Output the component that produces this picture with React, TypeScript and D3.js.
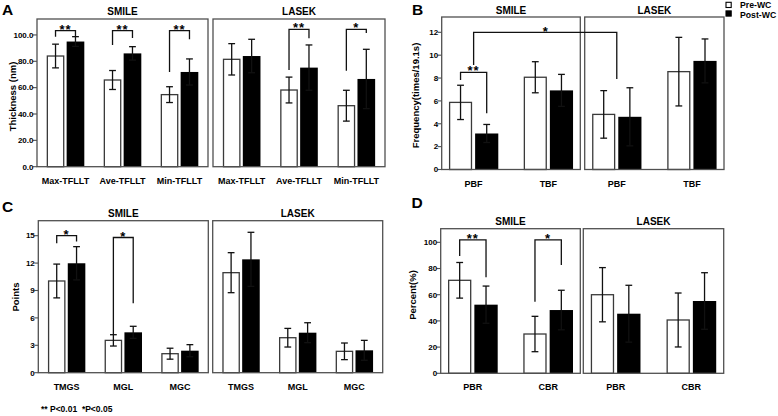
import React from 'react';
import * as d3 from 'd3';

// ---------- data ----------
const seriesLabels = ['Pre-WC', 'Post-WC'];
const groupLabels = ['SMILE', 'LASEK'];

// Panel A: tear film lipid layer thickness (nm)
const catsA = ['Max-TFLLT', 'Ave-TFLLT', 'Min-TFLLT'];
const smilePreA = [84.0, 65.8, 54.7];
const smilePreErrA = [9.0, 7.2, 6.0];
const smilePostA = [95.0, 86.0, 71.9];
const smilePostErrA = [3.7, 5.1, 9.9];
const lasekPreA = [81.5, 58.2, 46.3];
const lasekPreErrA = [11.9, 9.8, 11.7];
const lasekPostA = [84.0, 75.2, 66.6];
const lasekPostErrA = [12.7, 17.2, 22.5];
const ticksA = [0, 20, 40, 60, 80, 100];

// Panel B: blink frequency
const catsB = ['PBF', 'TBF'];
const smilePreB = [5.87, 8.07];
const smilePreErrB = [1.5, 1.36];
const smilePostB = [3.15, 6.92];
const smilePostErrB = [0.79, 1.4];
const lasekPreB = [4.82, 8.56];
const lasekPreErrB = [2.08, 3.0];
const lasekPostB = [4.61, 9.5];
const lasekPostErrB = [2.54, 1.92];
const ticksB = [0, 2, 4, 6, 8, 10, 12];

// Panel C: meibography points
const catsC = ['TMGS', 'MGL', 'MGC'];
const smilePreC = [10.04, 3.54, 2.08];
const smilePreErrC = [1.85, 0.62, 0.6];
const smilePostC = [11.98, 4.42, 2.41];
const smilePostErrC = [1.82, 0.66, 0.66];
const lasekPreC = [10.95, 3.83, 2.34];
const lasekPreErrC = [2.19, 1.02, 0.91];
const lasekPostC = [12.41, 4.38, 2.45];
const lasekPostErrC = [2.96, 1.09, 1.09];
const ticksC = [0, 3, 6, 9, 12, 15];

// Panel D: blink ratio percent
const catsD = ['PBR', 'CBR'];
const smilePreD = [71.0, 30.0];
const smilePreErrD = [13.6, 13.5];
const smilePostD = [52.4, 48.3];
const smilePostErrD = [14.2, 15.1];
const lasekPreD = [60.0, 40.7];
const lasekPreErrD = [20.7, 20.6];
const lasekPostD = [45.5, 55.2];
const lasekPostErrD = [21.7, 21.6];
const ticksD = [0, 20, 40, 60, 80, 100];

// significance brackets (values in data units)
const sigA = [
  { group: 0, cat: 0, top: 103.3, left: 98.7, right: 99.2, label: '**' },
  { group: 0, cat: 1, top: 103.3, left: 92.4, right: 97.7, label: '**' },
  { group: 0, cat: 2, top: 103.3, left: 71.9, right: 96.7, label: '**' },
  { group: 1, cat: 1, top: 104.3, left: 73.4, right: 97.5, label: '**' },
  { group: 1, cat: 2, top: 104.3, left: 72.9, right: 101.5, label: '*' },
];
const sigB = [{ group: 0, cat: 0, top: 8.5, left: 7.83, right: 4.92, label: '**' }];
const spanB = [{ fromGroup: 0, toGroup: 1, cat: 0, top: 12.0, left: 9.14, right: 7.92, label: '*' }];
const sigC = [
  { group: 0, cat: 0, top: 15.0, left: 14.17, right: 14.35, label: '*' },
  { group: 0, cat: 1, top: 14.8, left: 4.13, right: 7.6, label: '*' },
];
const sigD = [
  { group: 0, cat: 0, top: 101.8, left: 89.5, right: 73.3, label: '**' },
  { group: 0, cat: 1, top: 101.8, left: 54.7, right: 82.7, label: '*' },
];

const footnote = '** P<0.01  *P<0.05';

// ---------- layout ----------
const FONT = "'Liberation Sans', Arial, Helvetica, sans-serif";
const BOX = '#505050';

type Sig = { group: number; cat: number; top: number; left: number; right: number; label: string };
type Span = { fromGroup: number; toGroup: number; cat: number; top: number; left: number; right: number; label: string };

type PanelCfg = {
  letter: string; letterX: number; letterY: number;
  cats: string[];
  pre: number[][]; preErr: number[][]; post: number[][]; postErr: number[][];
  ticks: number[]; fmt: (v: number) => string;
  yMax: number; yBottom: number; yTop: number;
  boxes: { x0: number; x1: number }[];
  pad: number;
  yTitle: string; yTitleX: number; yTitleY: number;
  titleY: number; catY: number;
  sig: Sig[]; spans: Span[];
};

const panels: PanelCfg[] = [
  {
    letter: 'A', letterX: 2, letterY: 15,
    cats: catsA,
    pre: [smilePreA, lasekPreA], preErr: [smilePreErrA, lasekPreErrA],
    post: [smilePostA, lasekPostA], postErr: [smilePostErrA, lasekPostErrA],
    ticks: ticksA, fmt: d3.format('.1f'),
    yMax: 112.1, yBottom: 166.7, yTop: 19,
    boxes: [{ x0: 37, x1: 208 }, { x0: 213, x1: 385 }],
    pad: 0.5,
    yTitle: 'Thickness (nm)', yTitleX: 12.5, yTitleY: 96.5,
    titleY: 15, catY: 183.5,
    sig: sigA, spans: [],
  },
  {
    letter: 'B', letterX: 412, letterY: 15,
    cats: catsB,
    pre: [smilePreB, lasekPreB], preErr: [smilePreErrB, lasekPreErrB],
    post: [smilePostB, lasekPostB], postErr: [smilePostErrB, lasekPostErrB],
    ticks: ticksB, fmt: d3.format('d'),
    yMax: 13.34, yBottom: 169.5, yTop: 17,
    boxes: [{ x0: 441.7, x1: 580.3 }, { x0: 584.7, x1: 724 }],
    pad: 0.427,
    yTitle: 'Frequency(times/19.1s)', yTitleX: 415, yTitleY: 95.5,
    titleY: 14, catY: 186.5,
    sig: sigB, spans: spanB,
  },
  {
    letter: 'C', letterX: 2, letterY: 211.5,
    cats: catsC,
    pre: [smilePreC, lasekPreC], preErr: [smilePreErrC, lasekPreErrC],
    post: [smilePostC, lasekPostC], postErr: [smilePostErrC, lasekPostErrC],
    ticks: ticksC, fmt: d3.format('d'),
    yMax: 16.64, yBottom: 372.7, yTop: 220.7,
    boxes: [{ x0: 38.3, x1: 208.3 }, { x0: 212.7, x1: 382.7 }],
    pad: 0.5,
    yTitle: 'Points', yTitleX: 15, yTitleY: 297,
    titleY: 216.5, catY: 390,
    sig: sigC, spans: [],
  },
  {
    letter: 'D', letterX: 411.5, letterY: 208,
    cats: catsD,
    pre: [smilePreD, lasekPreD], preErr: [smilePreErrD, lasekPreErrD],
    post: [smilePostD, lasekPostD], postErr: [smilePostErrD, lasekPostErrD],
    ticks: ticksD, fmt: d3.format('d'),
    yMax: 110.4, yBottom: 373.3, yTop: 228.7,
    boxes: [{ x0: 440.7, x1: 580.3 }, { x0: 583.3, x1: 723.7 }],
    pad: 0.427,
    yTitle: 'Percent(%)', yTitleX: 412.5, yTitleY: 295,
    titleY: 225, catY: 390,
    sig: sigD, spans: [],
  },
];

function ErrorBar({ x, y, v, e }: { x: number; y: d3.ScaleLinear<number, number>; v: number; e: number }) {
  const cap = 3.4;
  const yt = y(v + e);
  const yb = y(Math.max(0, v - e));
  return (
    <g stroke="#111" strokeWidth={1.3}>
      <line x1={x} x2={x} y1={yt} y2={yb} />
      <line x1={x - cap} x2={x + cap} y1={yt} y2={yt} />
      <line x1={x - cap} x2={x + cap} y1={yb} y2={yb} />
    </g>
  );
}

function Panel({ p }: { p: PanelCfg }) {
  const y = d3.scaleLinear().domain([0, p.yMax]).range([p.yBottom, p.yTop]);
  const xs = p.boxes.map((b) => d3.scalePoint<string>().domain(p.cats).range([b.x0, b.x1]).padding(p.pad));
  const step = xs[0].step();
  const bw = step * 0.31;
  const gap = step * 0.04;
  const preX = (g: number, i: number) => (xs[g](p.cats[i]) as number) - gap / 2 - bw;
  const postX = (g: number, i: number) => (xs[g](p.cats[i]) as number) + gap / 2;
  const b0 = p.boxes[0];

  return (
    <g fontFamily={FONT} fontWeight="bold">
      <text x={p.letterX} y={p.letterY} fontSize={15.5} fill="#000">{p.letter}</text>
      <text
        transform={`translate(${p.yTitleX},${p.yTitleY}) rotate(-90)`}
        textAnchor="middle" dominantBaseline="central" fontSize={9.5} fill="#000"
      >{p.yTitle}</text>
      {/* y ticks on the SMILE box */}
      {p.ticks.map((t) => (
        <g key={t}>
          <line x1={b0.x0 - 4} x2={b0.x0} y1={y(t)} y2={y(t)} stroke={BOX} strokeWidth={1.1} />
          <text x={b0.x0 - 3.5} y={y(t)} dy="0.35em" textAnchor="end" fontSize={8} fill="#000">{p.fmt(t)}</text>
        </g>
      ))}
      {p.boxes.map((b, g) => (
        <g key={g}>
          {/* bars */}
          {p.cats.map((c, i) => {
            const xp = preX(g, i);
            const xq = postX(g, i);
            const vp = p.pre[g][i];
            const vq = p.post[g][i];
            return (
              <g key={c}>
                <rect x={xp + 0.65} y={y(vp)} width={bw - 1.3} height={y(0) - y(vp)} fill="#fff" stroke="#3a3a3a" strokeWidth={1.3} />
                <rect x={xq} y={y(vq)} width={bw} height={y(0) - y(vq)} fill="#000" />
                <ErrorBar x={xp + bw / 2} y={y} v={vp} e={p.preErr[g][i]} />
                <ErrorBar x={xq + bw / 2} y={y} v={vq} e={p.postErr[g][i]} />
                <text x={xs[g](c) as number} y={p.catY} textAnchor="middle" fontSize={9} fill="#000">{c}</text>
              </g>
            );
          })}
          <rect x={b.x0} y={p.yTop} width={b.x1 - b.x0} height={p.yBottom - p.yTop} fill="none" stroke={BOX} strokeWidth={1.3} />
          <text x={(b.x0 + b.x1) / 2} y={p.titleY} textAnchor="middle" fontSize={10} fill="#000">{groupLabels[g]}</text>
        </g>
      ))}
      {/* significance brackets */}
      {p.sig.map((s, k) => {
        const xl = preX(s.group, s.cat) + bw / 2;
        const xr = postX(s.group, s.cat) + bw / 2;
        const yt = y(s.top);
        return (
          <g key={k}>
            <path d={`M${xl},${y(s.left)}V${yt}H${xr}V${y(s.right)}`} fill="none" stroke="#111" strokeWidth={1.3} />
            <text x={(xl + xr) / 2} y={yt + 3} textAnchor="middle" fontSize={13} letterSpacing={1} fill="#000">{s.label}</text>
          </g>
        );
      })}
      {p.spans.map((s, k) => {
        const xl = xs[s.fromGroup](p.cats[s.cat]) as number;
        const xr = xs[s.toGroup](p.cats[s.cat]) as number;
        const yt = y(s.top);
        return (
          <g key={k}>
            <path d={`M${xl},${y(s.left)}V${yt}H${xr}V${y(s.right)}`} fill="none" stroke="#111" strokeWidth={1.3} />
            <text x={(xl + xr) / 2} y={yt + 3.5} textAnchor="middle" fontSize={13} fill="#000">{s.label}</text>
          </g>
        );
      })}
    </g>
  );
}

export default function App() {
  return (
    <svg width={778} height={416} style={{ position: 'absolute', left: 0, top: 0, background: '#fff' }}>
      <rect width={778} height={416} fill="#fff" />
      {panels.map((p) => <Panel key={p.letter} p={p} />)}
      {/* legend */}
      <g fontFamily={FONT} fontWeight="bold" fontSize={8.7}>
        {seriesLabels.map((s, i) => (
          <g key={s}>
            <rect x={726} y={2.3 + i * 8.6} width={5.2} height={5.2} fill={i === 0 ? '#fff' : '#000'} stroke="#000" strokeWidth={1.1} />
            <text x={740} y={4.9 + i * 9.6} dy="0.35em" fill="#000">{s}</text>
          </g>
        ))}
      </g>
      <text x={41} y={412} fontFamily={FONT} fontWeight="bold" fontSize={8.5} fill="#000" style={{ whiteSpace: 'pre' }}>{footnote}</text>
    </svg>
  );
}
